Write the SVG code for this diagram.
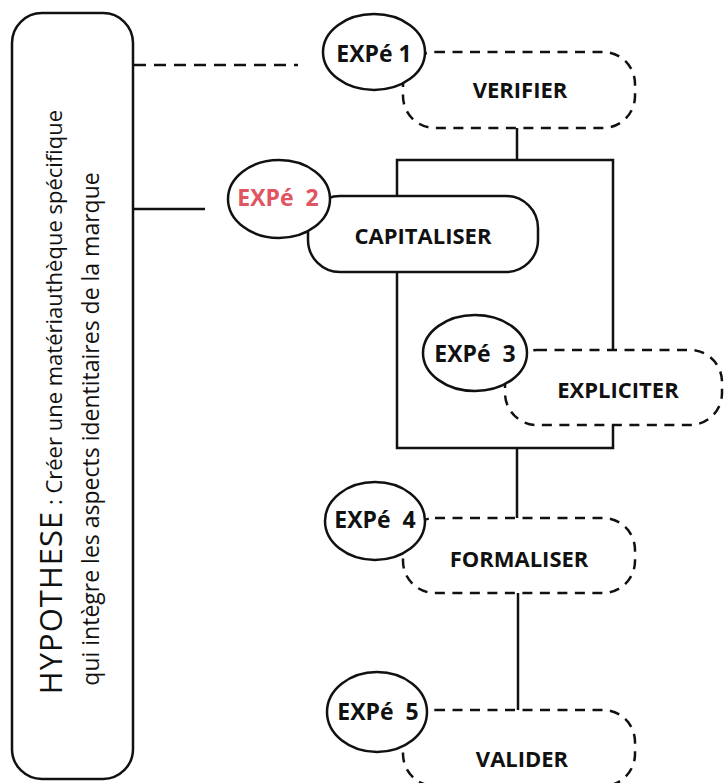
<svg xmlns="http://www.w3.org/2000/svg" width="726" height="783" viewBox="0 0 726 783">
<style>
.bg{fill:#ffffff}
.solid{fill:none;stroke:#111;stroke-width:2.5}
.box{fill:#ffffff;stroke:#111;stroke-width:2.5}
.dash{fill:none;stroke:#111;stroke-width:2.5;stroke-dasharray:10 7.5}
.ell{fill:#ffffff;stroke:#111;stroke-width:2.5}
.lbl{font-family:"Open Sans","Noto Sans","Liberation Sans",sans-serif;font-weight:bold;font-size:22px;fill:#111;text-anchor:middle;white-space:pre}
.exp{font-size:23px}
.red{fill:#e05560}
.hyp{font-family:"Open Sans","Noto Sans","Liberation Sans",sans-serif;font-size:22px;fill:#111;text-anchor:middle}
</style>
<rect class="bg" x="0" y="0" width="726" height="783"/>
<g id="connectors">
<line class="dash" x1="134" y1="65" x2="298" y2="65" style="stroke-dasharray:12 8"/>
<line class="solid" x1="134" y1="209" x2="205" y2="209"/>
<polyline class="solid" points="517,128 517,160"/>
<polyline class="solid" points="397,196 397,160 613,160 613,350"/>
<polyline class="solid" points="397,272 397,448 613,448 613,425"/>
<line class="solid" x1="517" y1="448" x2="517" y2="518"/>
<line class="solid" x1="518" y1="593" x2="518" y2="710"/>
</g>
<g id="hypothese">
<rect class="box" x="12" y="13" width="121" height="766" rx="30" ry="30"/>
<text class="hyp" transform="translate(62,402) rotate(-90)" x="0" y="0"><tspan style="font-size:31px;letter-spacing:1px">HYPOTHESE</tspan> : Créer une matériauthèque spécifique</text>
<text class="hyp" transform="translate(99,429) rotate(-90)" x="0" y="0" style="font-size:23px">qui intègre les aspects identitaires de la marque</text>
</g>
<g id="verifier">
<rect class="dash" x="403" y="52" width="232" height="76" rx="32" ry="32"/>
<text class="lbl" x="520" y="98">VERIFIER</text>
</g>
<g id="expe1">
<ellipse class="ell" cx="374" cy="52" rx="51" ry="38"/>
<text class="lbl exp" x="374" y="62">EXPé 1</text>
</g>
<g id="capitaliser">
<rect class="box" x="308" y="196" width="230" height="76" rx="32" ry="32"/>
<text class="lbl" x="423" y="244">CAPITALISER</text>
</g>
<g id="expe2">
<ellipse class="ell" cx="279" cy="199" rx="51" ry="39"/>
<text class="lbl exp red" x="278" y="206">EXPé  2</text>
</g>
<g id="expliciter">
<rect class="dash" x="505" y="350" width="217" height="75" rx="32" ry="32"/>
<text class="lbl" x="618" y="398">EXPLICITER</text>
</g>
<g id="expe3">
<ellipse class="ell" cx="475" cy="353" rx="52" ry="38"/>
<text class="lbl exp" x="475" y="362">EXPé  3</text>
</g>
<g id="formaliser">
<rect class="dash" x="403" y="518" width="232" height="75" rx="32" ry="32"/>
<text class="lbl" x="519" y="567">FORMALISER</text>
</g>
<g id="expe4">
<ellipse class="ell" cx="375" cy="521" rx="50" ry="39"/>
<text class="lbl exp" x="375" y="528">EXPé  4</text>
</g>
<g id="valider">
<rect class="dash" x="403" y="710" width="232" height="76" rx="32" ry="32"/>
<text class="lbl" x="522" y="767">VALIDER</text>
</g>
<g id="expe5">
<ellipse class="ell" cx="377" cy="712" rx="50" ry="40"/>
<text class="lbl exp" x="378" y="720">EXPé  5</text>
</g>
</svg>
